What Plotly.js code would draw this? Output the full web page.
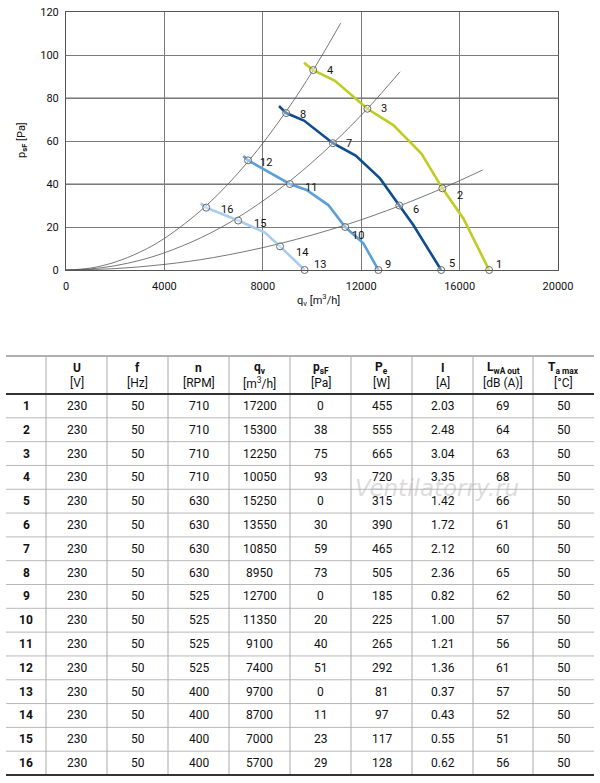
<!DOCTYPE html>
<html>
<head>
<meta charset="utf-8">
<script src="https://cdn.plot.ly/plotly-3.0.1.min.js"></script>
<style>html,body{margin:0;padding:0;background:#fff}#chart{width:600px;height:783px}</style>
</head>
<body>
<div id="chart"></div>
<script>
// ---------- table data ----------
const rowNo = [1,2,3,4,5,6,7,8,9,10,11,12,13,14,15,16];
const U    = [230,230,230,230,230,230,230,230,230,230,230,230,230,230,230,230];
const f    = [50,50,50,50,50,50,50,50,50,50,50,50,50,50,50,50];
const n    = [710,710,710,710,630,630,630,630,525,525,525,525,400,400,400,400];
const qv   = [17200,15300,12250,10050,15250,13550,10850,8950,12700,11350,9100,7400,9700,8700,7000,5700];
const psF  = [0,38,75,93,0,30,59,73,0,20,40,51,0,11,23,29];
const Pe   = [455,555,665,720,315,390,465,505,185,225,265,292,81,97,117,128];
const I    = ["2.03","2.48","3.04","3.35","1.42","1.72","2.12","2.36","0.82","1.00","1.21","1.36","0.37","0.43","0.55","0.62"];
const LwA  = [69,64,63,68,66,61,60,65,62,57,56,61,57,52,51,56];
const Tmax = [50,50,50,50,50,50,50,50,50,50,50,50,50,50,50,50];
const headTop = ["U","f","n","q<sub>v</sub>","p<sub>sF</sub>","P<sub>e</sub>","I","L<sub>wA out</sub>","T<sub>a max</sub>"];
const headUnit = ["[V]","[Hz]","[RPM]","[m<sup>3</sup>/h]","[Pa]","[W]","[A]","[dB (A)]","[°C]"];

// ---------- fan curves ----------
const c710_q = [9675,10050,10935,12250,13305,14455,15300,16152,17200];
const c710_p = [96.4,93,88,75,67.4,54,38,24,0];
const c630_q = [8660,8950,9675,10850,11775,12764,13550,14118,15250];
const c630_p = [76.3,73,69.5,59,53.2,42.6,30,20.9,0];
const c525_q = [7208,7400,9100,9780,10663,11350,12087,12700];
const c525_p = [53,51,40,37.2,30.2,20,12.4,0];
const c400_q = [5474,5700,7000,8089,8700,9700];
const c400_p = [31,29,23,17.4,11,0];

// ---------- system curves ----------
const s1_q = [0,1000,2000,3000,4000,5700,7400,8950,10050,11165];
const s1_p = [0,0.9,3.7,8.3,14.7,29.9,50.4,73.8,93,114.8];
const s2_q = [0,1000,2000,3000,4000,5500,7000,9100,10850,12250,13577];
const s2_p = [0,0.5,2,4.5,8,15.1,24.5,41.4,58.9,75,92.2];
const s3_q = [0,2000,4000,6000,8700,11350,13550,15300,16935];
const s3_p = [0,0.65,2.6,5.8,12.3,20.9,29.8,38,46.5];

const xTicks = [0,4000,8000,12000,16000,20000];
const yTicks = [0,20,40,60,80,100,120];
const lightGridY = [40,80];

// ---------- styling ----------
const FONT = 'Roboto, "Liberation Sans", sans-serif';
const W = 600, H = 783;
const px = x => x / W, py = y => 1 - y / H;

const traces = [];
[[s1_q,s1_p],[s2_q,s2_p],[s3_q,s3_p]].forEach(([q,p]) => traces.push({
  x:q, y:p, mode:'lines', type:'scatter', line:{color:'#555', width:0.8, shape:'spline'}, hoverinfo:'skip'
}));
[[c710_q,c710_p,'#bfcc22'],[c630_q,c630_p,'#0e4d8e'],[c525_q,c525_p,'#5b9fd9'],[c400_q,c400_p,'#a8ccee']].forEach(([q,p,c]) => traces.push({
  x:q, y:p, mode:'lines', type:'scatter', line:{color:c, width:2.6}, hoverinfo:'skip'
}));
traces.push({
  x:qv, y:psF, mode:'markers', type:'scatter', cliponaxis:false,
  marker:{symbol:'circle', size:7, color:'rgba(255,255,255,0.35)', line:{color:'#6a6a6a', width:1}}, hoverinfo:'skip'
});

// label offsets (px): right, up
const labelShift = {1:[10,6],2:[18,-7],3:[17,0],4:[17,0],5:[11,7],6:[17,-4],7:[16,0],8:[17,-1],
  9:[10,6],10:[13,-8],11:[21,-3],12:[18,-2],13:[15,6],14:[22,-6],15:[22,-3],16:[21,-2]};

const annotations = [];
const txt = (x, y, text, size, extra) => annotations.push(Object.assign({
  x:px(x), y:py(y), xref:'paper', yref:'paper', text:text, showarrow:false, xanchor:'center', yanchor:'middle',
  font:{family:FONT, size:size, color:'#111'}}, extra || {}));

rowNo.forEach((r,i) => {
  annotations.push({x:qv[i], y:psF[i], xref:'x', yref:'y', text:String(r), showarrow:false, xanchor:'center', yanchor:'middle',
    xshift:labelShift[r][0], yshift:labelShift[r][1], font:{family:FONT, size:11, color:'#111'}});
});
// axis titles
txt(318, 300, 'q<sub>v</sub> [m<sup>3</sup>/h]', 11);
txt(22, 140, 'p<sub><b>sF</b></sub> [Pa]', 11, {textangle:-90});

// ---------- shapes ----------
const shapes = [];
lightGridY.forEach(v => shapes.push({type:'line', layer:'below', xref:'x', yref:'y', x0:0, x1:20000, y0:v, y1:v, line:{color:'#b8b8b8', width:2}}));

// ---------- table ----------
const colEdges = [6,46,107,168,229,290,351,412,473,533,594];
const tTop = 356, hBot = 394, tBot = 775;
const rowH = (tBot - hBot) / rowNo.length;
const L = (x0,y0,x1,y1,c,w) => shapes.push({type:'line', xref:'paper', yref:'paper', x0:px(x0), y0:py(y0), x1:px(x1), y1:py(y1), line:{color:c, width:w}});
const xl = colEdges[0], xr = colEdges[colEdges.length-1];
L(xl, tTop, xr, tTop, '#b0b0b0', 2);
for (let k = 1; k < rowNo.length; k++) L(xl, hBot + k*rowH, xr, hBot + k*rowH, '#b8b8b8', 1);
for (let c = 1; c < colEdges.length-1; c++) L(colEdges[c], tTop, colEdges[c], tBot, '#aaaaaa', 1);
L(xl, hBot, xr, hBot, '#333', 2);
L(xl, tBot, xr, tBot, '#333', 2);

const cx = c => (colEdges[c] + colEdges[c+1]) / 2;
headTop.forEach((t,c) => {
  txt(cx(c+1), 368, '<b>'+t+'</b>', 12);
  txt(cx(c+1), 383, headUnit[c], 12);
});
const cols = [U,f,n,qv,psF,Pe,I,LwA,Tmax];
rowNo.forEach((r,i) => {
  const yc = hBot + (i+0.5)*rowH;
  txt(cx(0), yc, '<b>'+r+'</b>', 12);
  cols.forEach((col,c) => txt(cx(c+1), yc, String(col[i]), 12));
});
// watermark
txt(437, 488, 'Ventilatorry.ru', 23, {font:{family:'"DejaVu Sans","Liberation Sans",sans-serif', size:23, color:'rgba(175,175,175,0.45)', style:'italic'}});

const layout = {
  width:W, height:H, margin:{l:0,r:0,t:0,b:0}, paper_bgcolor:'#fff', plot_bgcolor:'#fff', showlegend:false,
  xaxis:{domain:[px(66), px(558)], range:[0,20000], tickvals:xTicks, ticktext:xTicks.map(String), showgrid:true, gridcolor:'#7a7a7a', gridwidth:1,
    zeroline:false, showline:true, linecolor:'#555', linewidth:1, mirror:true, ticks:'', ticklabelstandoff:6, tickfont:{family:FONT, size:11, color:'#111'}, fixedrange:true},
  yaxis:{domain:[1-270/H, 1-12/H], range:[0,120], tickvals:yTicks, showgrid:true, gridcolor:'#7a7a7a', gridwidth:1,
    zeroline:false, showline:true, linecolor:'#555', linewidth:1, mirror:true, ticks:'', ticklabelstandoff:4, tickfont:{family:FONT, size:11, color:'#111'}, fixedrange:true},
  shapes:shapes, annotations:annotations
};
Plotly.newPlot('chart', traces, layout, {staticPlot:true, displayModeBar:false});
</script>
</body>
</html>
